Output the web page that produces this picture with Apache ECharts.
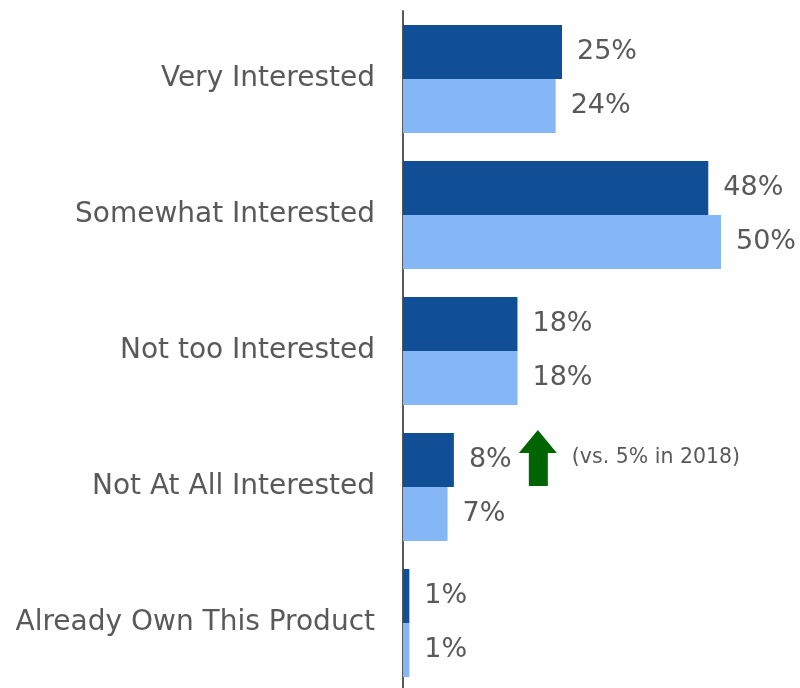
<!DOCTYPE html>
<html>
<head>
    <meta charset="utf-8" />
    <title></title>
    <script src="https://cdn.jsdelivr.net/npm/echarts@6/dist/echarts.min.js"></script>
</head>
<body style="margin:0; overflow:hidden">
<div id="main" style="width: 800px; height: 691px"></div>
<script type="text/javascript">
    var categories = ['Very Interested', 'Somewhat Interested', 'Not too Interested', 'Not At All Interested', 'Already Own This Product'];
    var current = [25, 48, 18, 8, 1];
    var previous = [24, 50, 18, 7, 1];
    var noteText = '(vs. 5% in 2018)';
    var noteCoord = [21.2, 'Not At All Interested'];

    var font = 'DejaVu Sans';
    var grey = '#595959';
    var arrow = 'path://M19 0 L38 23 L29 23 L29 56 L10 56 L10 23 L0 23 Z';

    var myChart = echarts.init(document.getElementById('main'));
    myChart.setOption({
        animation: false,
        grid: { left: 403, width: 381.6, top: 11, height: 680, containLabel: false },
        xAxis: {
            type: 'value',
            min: 0,
            max: 60,
            show: false
        },
        yAxis: {
            type: 'category',
            data: categories,
            inverse: true,
            axisTick: { show: false },
            axisLine: { show: true, lineStyle: { color: grey, width: 2 } },
            axisLabel: { color: grey, fontSize: 28, fontFamily: font, margin: 28 }
        },
        series: [
            {
                name: 'current',
                type: 'bar',
                data: current,
                barGap: '0%',
                barCategoryGap: '20.6%',
                itemStyle: { color: '#104E95' },
                label: {
                    show: true, position: 'right', distance: 15,
                    formatter: '{c}%', color: grey, fontSize: 27, fontFamily: font
                },
                markPoint: {
                    symbol: arrow,
                    symbolSize: [38, 56],
                    symbolOffset: [0, -2],
                    itemStyle: { color: '#006400' },
                    label: {
                        show: true, position: 'right', distance: 15,
                        formatter: noteText, color: grey, fontSize: 20.5, fontFamily: font
                    },
                    data: [{ coord: noteCoord }]
                }
            },
            {
                name: 'previous',
                type: 'bar',
                data: previous,
                itemStyle: { color: '#85B6F5' },
                label: {
                    show: true, position: 'right', distance: 15,
                    formatter: '{c}%', color: grey, fontSize: 27, fontFamily: font
                }
            }
        ]
    });
</script>
</body>
</html>
